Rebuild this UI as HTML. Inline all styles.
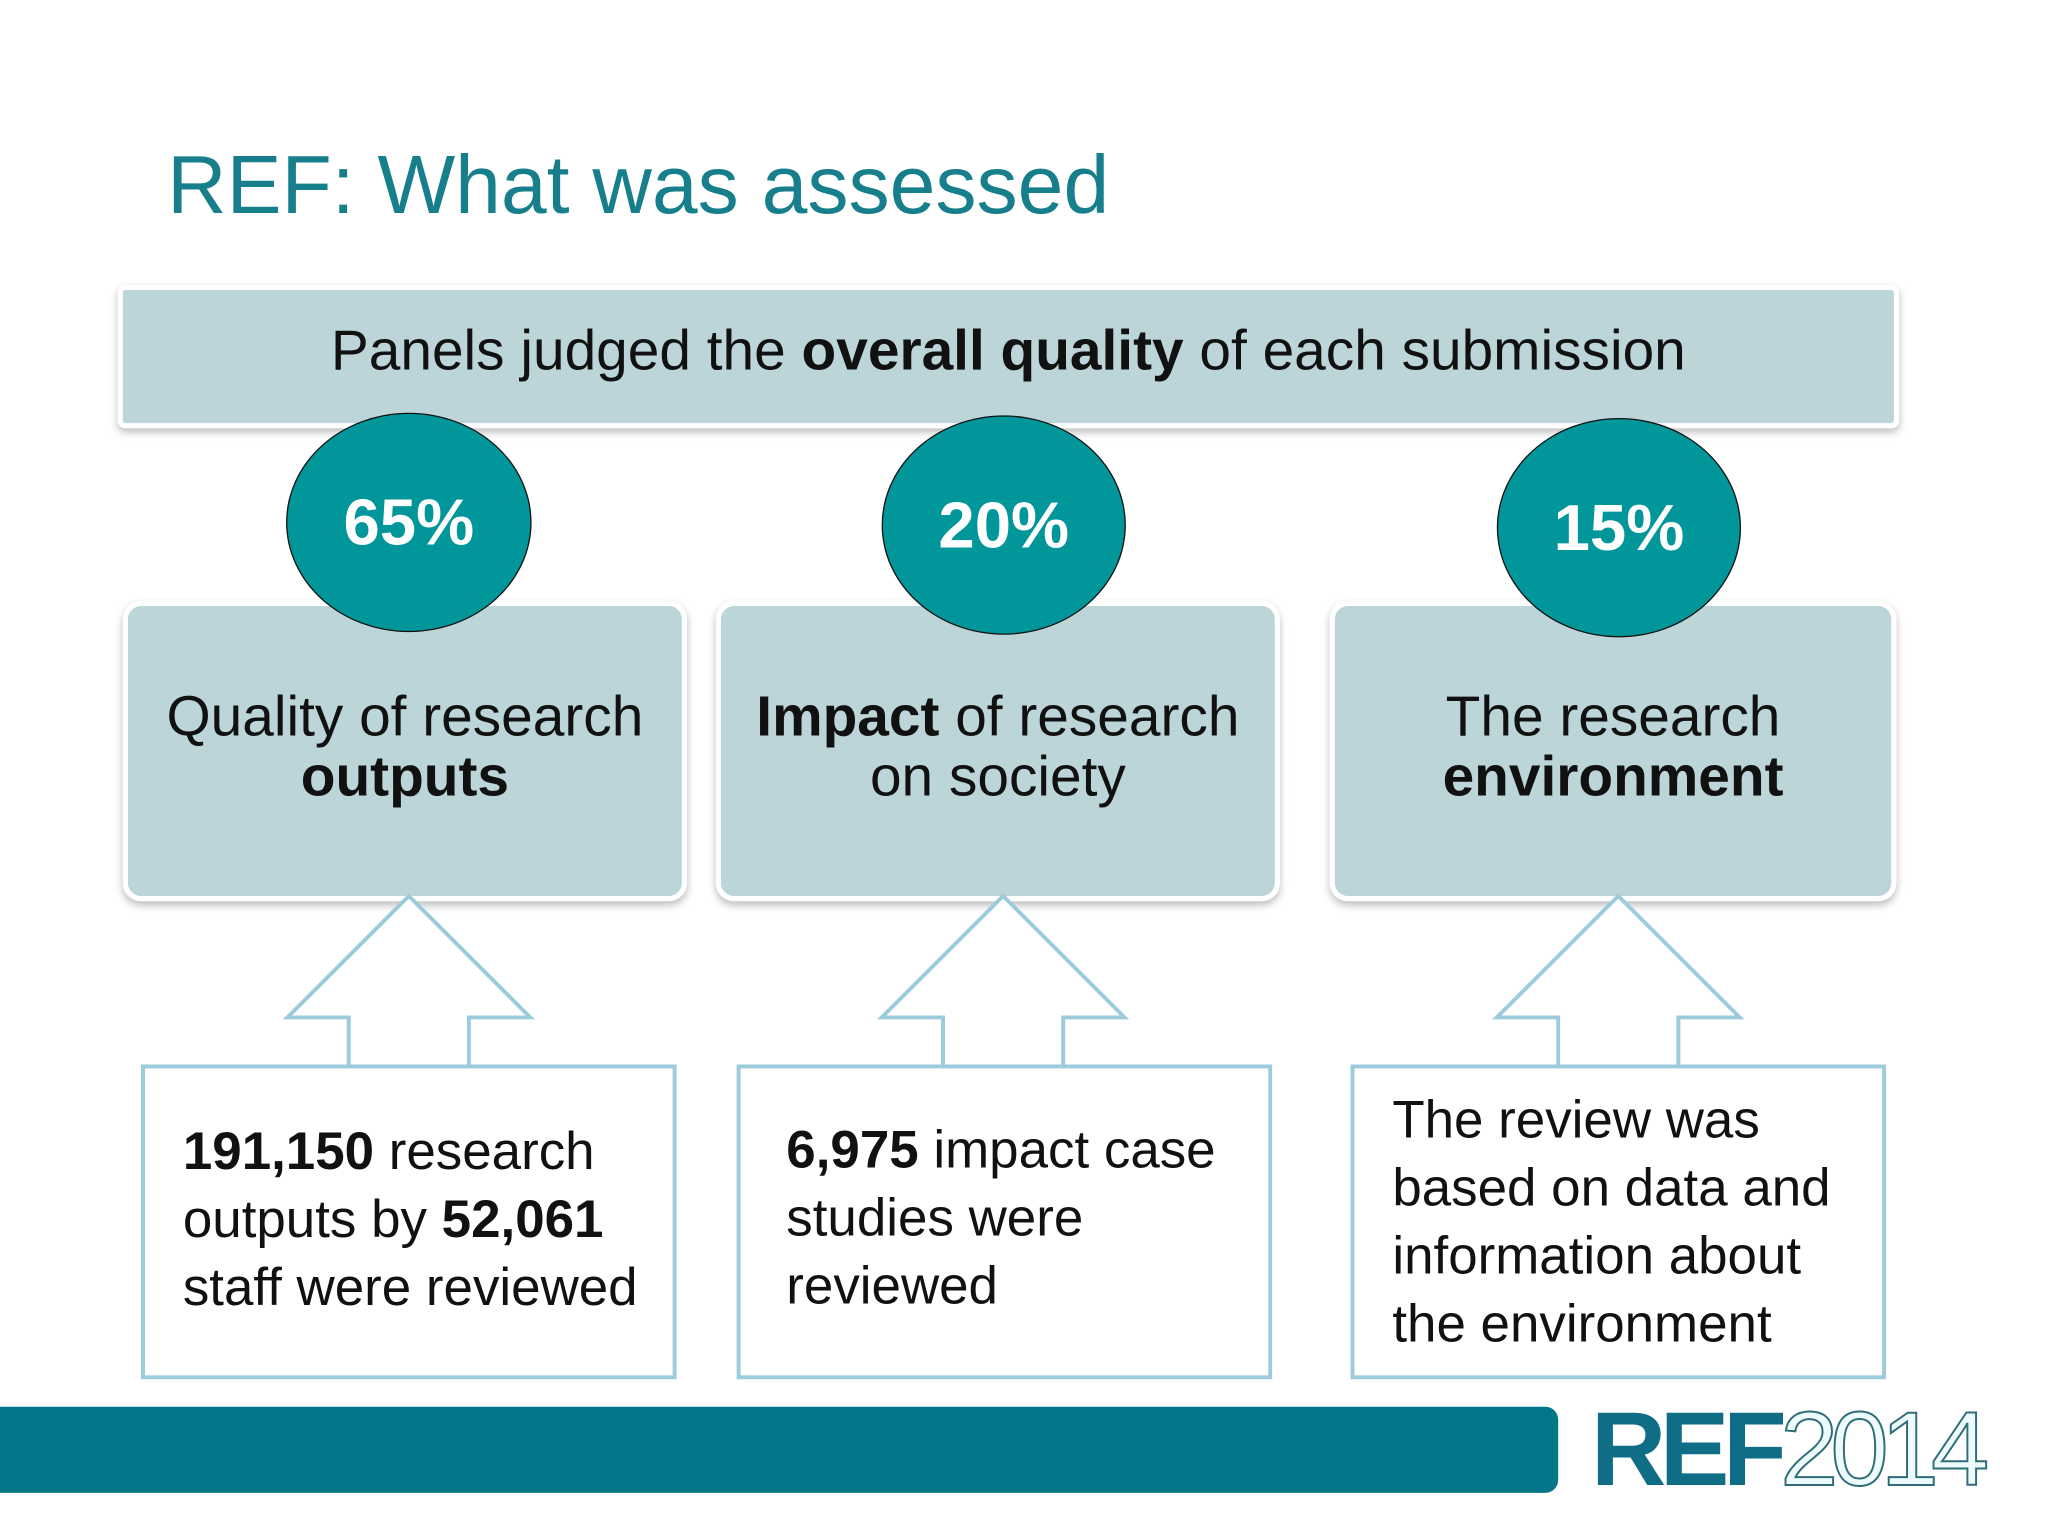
<!DOCTYPE html>
<html><head><meta charset="utf-8"><style>
html,body{margin:0;padding:0;background:#fff;}
body{width:2048px;height:1536px;overflow:hidden;position:relative;}
#s{position:absolute;left:0;top:0;width:1568px;height:1176px;transform:scale(1.30612);transform-origin:0 0;font-family:"Liberation Sans",sans-serif;}
.a{position:absolute;}
.box{background:#bcd5d8;border:4px solid #fff;box-shadow:0 3px 6px rgba(0,0,0,.25);box-sizing:border-box;}
.t{color:#111;font-size:43.5px;text-align:center;line-height:46px;}
.circ{background:#00969a;border:1.5px solid #111;border-radius:50%;color:#fff;font-weight:bold;font-size:50px;display:flex;align-items:center;justify-content:center;box-sizing:border-box;}
.bb{border:3px solid #9ccbdb;box-sizing:border-box;background:#fff;font-size:40.5px;line-height:52px;color:#111;font-family:"Liberation Sans",sans-serif;}
</style></head><body>
<div id="s">
<div class="a" style="left:128px;top:106px;font-size:63px;color:#177f8b;">REF: What was assessed</div>
<div class="a box" style="left:90px;top:218px;width:1364px;height:110px;border-radius:6px;"></div>
<div class="a t" style="left:90px;top:246px;width:1364px;">Panels judged the <b>overall quality</b> of each submission</div>

<div class="a box" style="left:94px;top:460px;width:432px;height:230px;border-radius:14px;"></div>
<div class="a box" style="left:548px;top:460px;width:432px;height:230px;border-radius:14px;"></div>
<div class="a box" style="left:1018px;top:460px;width:434px;height:230px;border-radius:14px;"></div>
<div class="a t" style="left:94px;top:526px;width:432px;">Quality of research<br><b>outputs</b></div>
<div class="a t" style="left:548px;top:526px;width:432px;"><b>Impact</b> of research<br>on society</div>
<div class="a t" style="left:1018px;top:526px;width:434px;">The research<br><b>environment</b></div>

<div class="a circ" style="left:219px;top:316px;width:188px;height:168px;">65%</div>
<div class="a circ" style="left:675px;top:318px;width:187px;height:168px;">20%</div>
<div class="a circ" style="left:1146px;top:320px;width:187px;height:168px;">15%</div>

<svg class="a" style="left:0;top:0" width="1568" height="1176">
<g fill="#fff" stroke="#9ccbdb" stroke-width="3">
<polygon points="313,686 406,779 359,779 359,818 267,818 267,779 220,779"/>
<polygon points="768,686 861,779 814,779 814,818 722,818 722,779 675,779"/>
<polygon points="1239,686 1332,779 1285,779 1285,818 1193,818 1193,779 1146,779"/>
</g></svg>

<div class="a bb" style="left:108px;top:815px;width:410px;height:241px;padding:37px 0 0 29px;"><b>191,150</b> research<br>outputs by <b>52,061</b><br>staff were reviewed</div>
<div class="a bb" style="left:564px;top:815px;width:410px;height:241px;padding:36px 0 0 35px;"><b>6,975</b> impact case<br>studies were<br>reviewed</div>
<div class="a bb" style="left:1034px;top:815px;width:410px;height:241px;padding:13px 0 0 29px;">The review was<br>based on data and<br>information about<br>the environment</div>

<div class="a" style="left:0;top:1077px;width:1193px;height:66px;background:#03778a;border-radius:0 10px 10px 0;"></div>
<div class="a" style="left:1218px;top:1070px;font-size:80px;font-weight:bold;letter-spacing:-5px;line-height:80px;"><span style="color:#0f6e86;">REF</span><span style="color:#eefbfd;-webkit-text-stroke:1.5px #2f6d78;font-weight:normal;letter-spacing:-6px;">2014</span></div>
</div>
</body></html>
